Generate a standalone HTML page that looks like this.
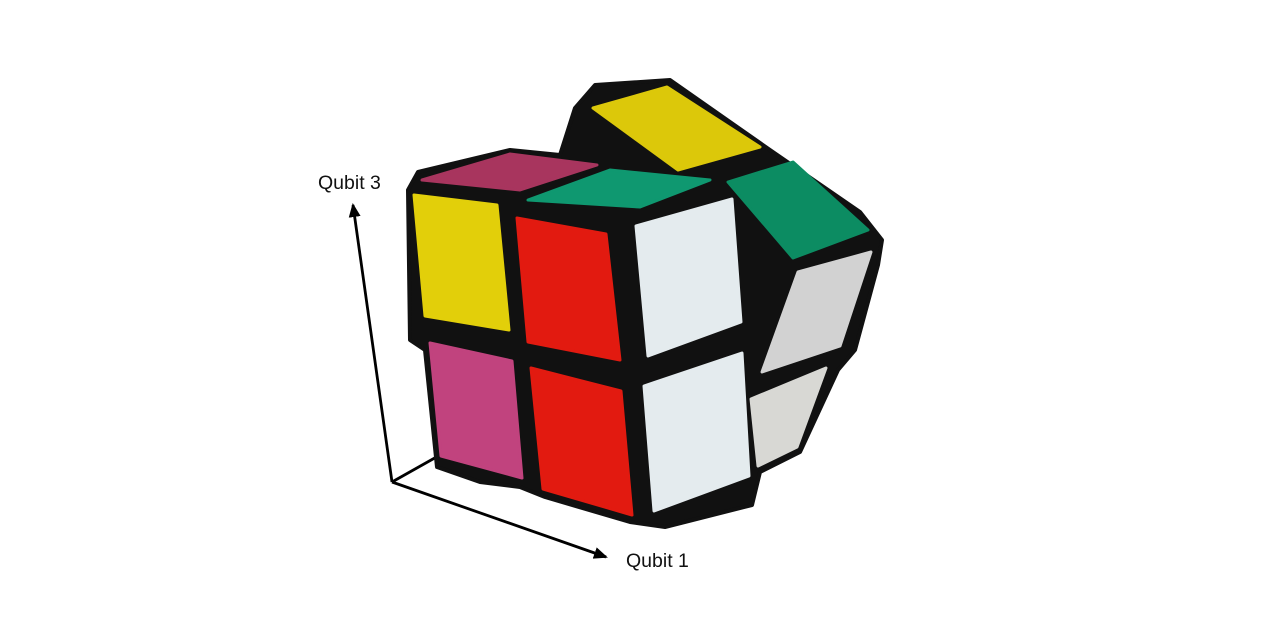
<!DOCTYPE html>
<html><head><meta charset="utf-8"><style>
html,body{margin:0;padding:0;background:#fff;width:1280px;height:640px;overflow:hidden}
text{font-family:"Liberation Sans",sans-serif;font-size:19.5px;fill:#111}
</style></head><body>
<svg width="1280" height="640" viewBox="0 0 1280 640">
<defs><marker id="ah" markerWidth="14" markerHeight="12" refX="12" refY="6" orient="auto" markerUnits="userSpaceOnUse"><path d="M0,0 L14,6 L0,12 z" fill="#000"/></marker></defs>
<g stroke="#000" stroke-width="2.8" fill="none">
<line x1="392" y1="482" x2="353" y2="205" marker-end="url(#ah)"/>
<line x1="392" y1="482" x2="606" y2="557" marker-end="url(#ah)"/>
<line x1="392" y1="482" x2="440" y2="455"/>
</g>
<text x="318" y="189">Qubit 3</text>
<text x="626" y="567">Qubit 1</text>
<g stroke-linejoin="round">
<polygon fill="#111" stroke="#111" stroke-width="4" points="408,190 418,172 510,150 560,155 575,108 595,85 670,80 770,150 860,212 882,240 878,265 855,350 838,370 800,452 760,472 752,505 665,527 630,522 545,497 520,487 480,482 437,467 425,350 410,340"/>
<g stroke-width="3">
<polygon fill="#e2cf0a" stroke="#e2cf0a" points="414,195 497,205 509,330 425,316"/>
<polygon fill="#a8355e" stroke="#a8355e" points="422,180 510,154 597,165 520,190"/>
<polygon fill="#0f9870" stroke="#0f9870" points="528,200 610,170 710,180 640,207"/>
<polygon fill="#e21a10" stroke="#e21a10" points="517,218 606,234 620,360 528,342"/>
<polygon fill="#e4ebee" stroke="#e4ebee" points="636,226 732,199 741,322 648,356"/>
<polygon fill="#dcc80a" stroke="#dcc80a" points="593,108 667,87 760,147 678,170"/>
<polygon fill="#0c8c62" stroke="#0c8c62" points="728,182 793,162 868,230 793,258"/>
<polygon fill="#d2d2d2" stroke="#d2d2d2" points="798,272 871,252 840,346 762,372"/>
<polygon fill="#c1437e" stroke="#c1437e" points="430,343 512,361 522,478 441,456"/>
<polygon fill="#e21a10" stroke="#e21a10" points="531,368 621,391 632,515 543,489"/>
<polygon fill="#e4ebee" stroke="#e4ebee" points="644,386 742,353 749,476 654,511"/>
<polygon fill="#d8d8d4" stroke="#d8d8d4" points="751,399 826,368 797,447 758,466"/>
</g>
</g>
</svg>
</body></html>
